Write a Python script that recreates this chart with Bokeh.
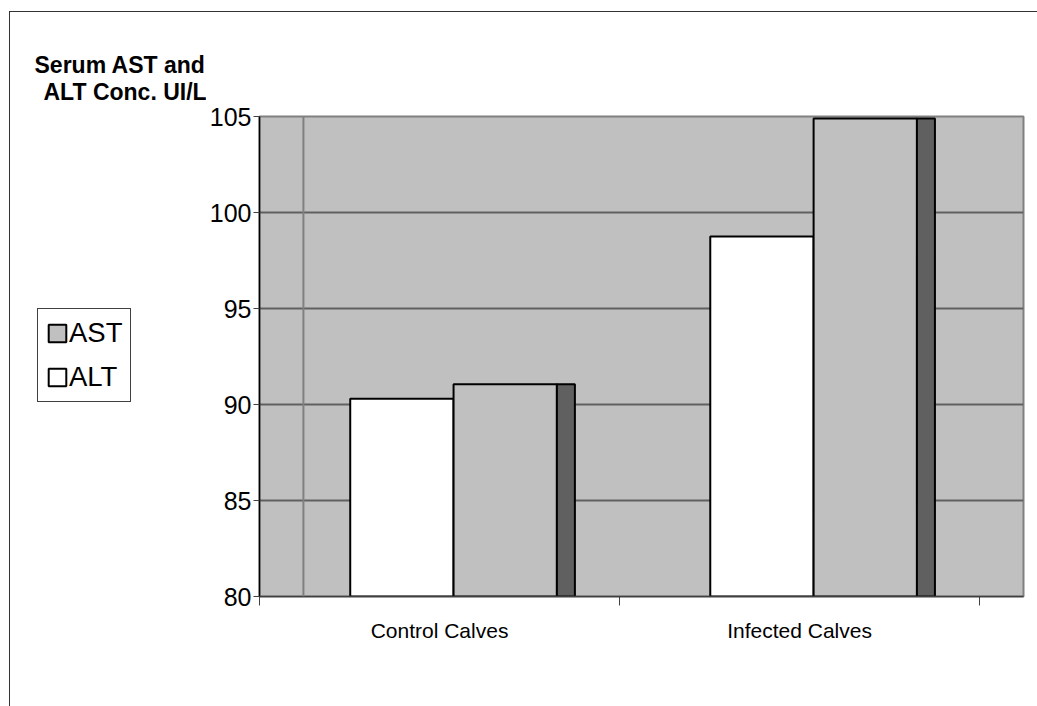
from bokeh.plotting import figure
from bokeh.layouts import row
from bokeh.models import Range1d, FixedTicker, Span, Legend, LegendItem, Label
from bokeh.embed import file_html
from bokeh.resources import INLINE

# Serum enzyme concentrations (UI/L)
categories = ["Control Calves", "Infected Calves"]
alt_values = [90.3, 98.75]
ast_values = [91.05, 104.9]
y_ticks = [80, 85, 90, 95, 100, 105]

FONT = "Liberation Sans"
H = 694
SIDE_W = 196            # left strip with the axis title and the legend
MAIN_W = 1027 - SIDE_W  # chart with the plot area
LEFT, RIGHT, TOP, BOTTOM = 53, 14, 104, 110

# layout of the pseudo-3D columns inside each category slot
depth = 0.122       # back-wall offset
gap = 0.252         # space before the first column
bar_w = 0.287       # column width
side_w = 0.05       # visible side face of the AST column

y0, y1 = y_ticks[0], y_ticks[-1]
x0, x1 = 0, len(categories) + depth

p = figure(width=MAIN_W, height=H, x_range=Range1d(x0, x1), y_range=Range1d(y0, y1),
           output_backend="svg", toolbar_location=None,
           min_border_left=LEFT, min_border_right=RIGHT,
           min_border_top=TOP, min_border_bottom=BOTTOM,
           background_fill_color="#C0C0C0", border_fill_color="white")
p.frame_align = False

idx = list(range(len(categories)))
alt_left = [i + gap for i in idx]
alt_right = [i + gap + bar_w for i in idx]
ast_left = alt_right
ast_right = [i + gap + 2 * bar_w for i in idx]
side_right = [i + gap + 2 * bar_w + side_w for i in idx]
base = [y0] * len(categories)

ALT_STYLE = dict(fill_color="white", line_color="black", line_width=2)
AST_STYLE = dict(fill_color="#C0C0C0", line_color="black", line_width=2)

p.add_layout(Span(location=depth, dimension="height", line_color="#808080", line_width=2))

p.quad(left=alt_left, right=alt_right, bottom=base, top=alt_values, **ALT_STYLE)
p.quad(left=ast_left, right=ast_right, bottom=base, top=ast_values, **AST_STYLE)
p.quad(left=ast_right, right=side_right, bottom=base, top=ast_values,
       fill_color="#606060", line_color="black", line_width=2)

# grid and outline
p.xgrid.grid_line_color = None
p.ygrid.ticker = FixedTicker(ticks=y_ticks)
p.ygrid.grid_line_color = "#606060"
p.ygrid.grid_line_width = 2
p.outline_line_color = "#808080"
p.outline_line_width = 2

# y axis
p.yaxis.ticker = FixedTicker(ticks=y_ticks)
p.yaxis.major_label_text_font = FONT
p.yaxis.major_label_text_font_size = "25px"
p.yaxis.major_label_text_color = "black"
p.yaxis.major_tick_out = 6
p.yaxis.major_tick_in = 0
p.yaxis.major_tick_line_color = "#404040"
p.yaxis.minor_tick_line_color = None
p.yaxis.axis_line_color = "black"
p.yaxis.axis_line_width = 1.5
p.yaxis.major_label_standoff = 2

# x axis: labels centred in each slot, ticks on slot boundaries
centers = [i + 0.5 for i in idx]
p.xaxis.ticker = FixedTicker(ticks=centers, minor_ticks=list(range(len(categories) + 1)))
p.xaxis.major_label_overrides = {c: name for c, name in zip(centers, categories)}
p.xaxis.major_label_text_font = FONT
p.xaxis.major_label_text_font_size = "21px"
p.xaxis.major_label_text_color = "black"
p.xaxis.major_tick_line_color = None
p.xaxis.major_tick_out = 0
p.xaxis.major_tick_in = 0
p.xaxis.major_label_standoff = 13
p.xaxis.minor_tick_out = 9
p.xaxis.minor_tick_in = 0
p.xaxis.minor_tick_line_color = "#404040"
p.xaxis.axis_line_color = "#404040"
p.xaxis.axis_line_width = 1.5

# left strip: pixel coordinates, y measured downwards
side = figure(width=SIDE_W, height=H, x_range=Range1d(0, SIDE_W), y_range=Range1d(H, 0),
              output_backend="svg", toolbar_location=None, min_border=0,
              x_axis_type=None, y_axis_type=None, outline_line_color=None,
              background_fill_color="white", border_fill_color="white")
side.frame_align = False

for text, x, y in [("Serum AST and", 24, 52), ("ALT Conc. UI/L", 33, 79)]:
    side.add_layout(Label(x=x, y=y, text=text, text_align="left",
                          text_baseline="alphabetic", text_font=FONT,
                          text_font_size="23px", text_font_style="bold",
                          text_color="black"))

# legend keys share the styles of the columns (no position, so nothing is drawn)
nan = float("nan")
key_ast = side.quad(left=[nan], right=[nan], bottom=[nan], top=[nan], **AST_STYLE)
key_alt = side.quad(left=[nan], right=[nan], bottom=[nan], top=[nan], **ALT_STYLE)

legend = Legend(items=[LegendItem(label="AST", renderers=[key_ast]),
                       LegendItem(label="ALT", renderers=[key_alt])],
                location=(27, 304),
                label_text_font=FONT, label_text_font_size="27.5px",
                label_text_color="black",
                glyph_width=22, glyph_height=22, label_standoff=1,
                padding=8, spacing=12, margin=0,
                border_line_color="#404040", border_line_width=1.5,
                border_line_alpha=1.0,
                background_fill_color="white")
side.add_layout(legend)

# chart frame: top and left edges
layout = row(side, p, styles={"margin-left": "9px", "margin-top": "11px",
                              "border-left": "1px solid #333333",
                              "border-top": "1px solid #333333"})

open("out.html", "w").write(file_html(layout, INLINE))
